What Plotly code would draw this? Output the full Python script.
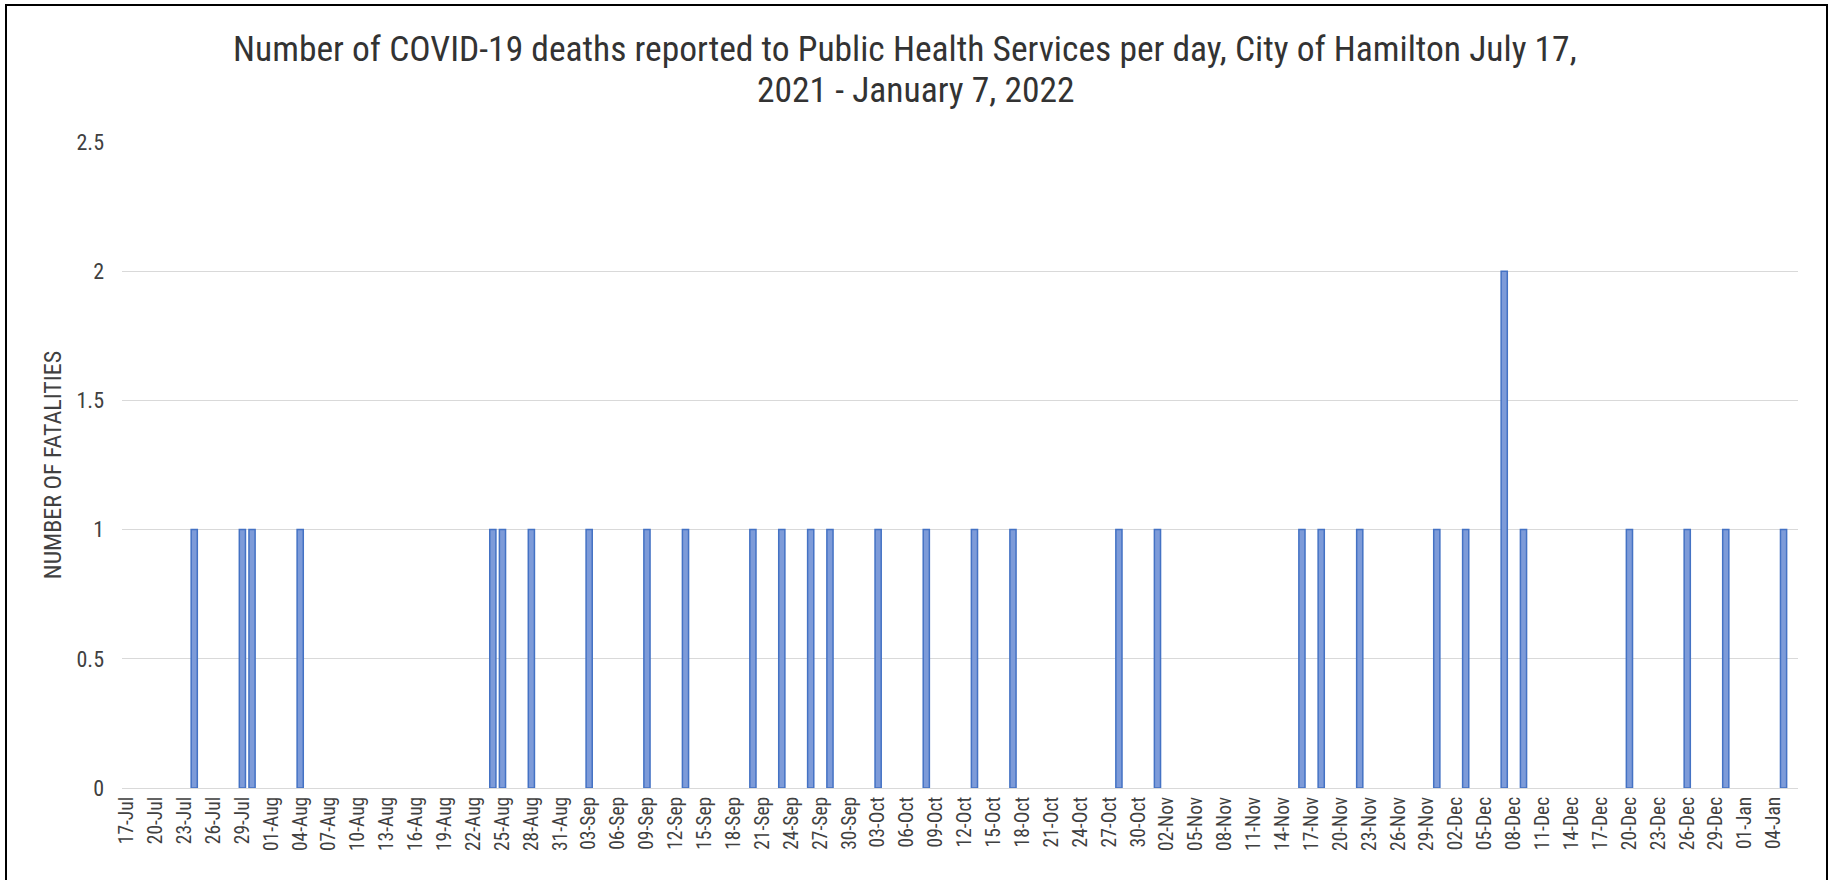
import datetime as dt
import plotly.graph_objects as go

# ---- data ----
start = dt.date(2021, 7, 17)
n_days = 174  # 17-Jul-2021 .. 06-Jan-2022
dates = [start + dt.timedelta(days=i) for i in range(n_days)]
day_labels = [d.strftime("%d-%b") for d in dates]

death_dates = [
    "24-Jul", "29-Jul", "30-Jul", "04-Aug", "24-Aug", "25-Aug", "28-Aug",
    "03-Sep", "09-Sep", "13-Sep", "20-Sep", "23-Sep", "26-Sep", "28-Sep",
    "03-Oct", "08-Oct", "13-Oct", "17-Oct", "28-Oct", "01-Nov", "16-Nov",
    "18-Nov", "22-Nov", "30-Nov", "03-Dec", "07-Dec", "09-Dec", "20-Dec",
    "26-Dec", "30-Dec", "05-Jan",
]
death_counts = [
    1, 1, 1, 1, 1, 1, 1,
    1, 1, 1, 1, 1, 1, 1,
    1, 1, 1, 1, 1, 1, 1,
    1, 1, 1, 1, 2, 1, 1,
    1, 1, 1,
]
tick_labels = day_labels[::3]
title_lines = [
    "Number of COVID-19 deaths reported to Public Health Services per day, City of Hamilton July 17,",
    "2021 - January 7, 2022",
]

lookup = dict(zip(death_dates, death_counts))
values = [lookup.get(lbl, 0) for lbl in day_labels]

# ---- figure ----
FONT = "Liberation Sans Narrow, Arial Narrow, Roboto Condensed, Liberation Sans, sans-serif"
W, H = 1831, 880
ml, mr, mt, mb = 122, 33, 142, 92
pw, ph = W - ml - mr, H - mt - mb

line_widths = [1.5 if v > 0 else 0 for v in values]

fig = go.Figure(
    go.Bar(
        x=day_labels,
        y=values,
        marker=dict(color="#7d9bd9", line=dict(color="#4472C4", width=line_widths)),
        hoverinfo="x+y",
    )
)

def px_to_paper_x(px):
    return (px - ml) / pw

def px_to_paper_y(py):
    return (H - mb - py) / ph

annotations = [
    dict(
        text=title_lines[0],
        xref="paper", yref="paper",
        x=px_to_paper_x(905), y=px_to_paper_y(49),
        xanchor="center", yanchor="middle",
        showarrow=False,
        font=dict(family=FONT, size=35.5, color="#333333"),
    ),
    dict(
        text=title_lines[1],
        xref="paper", yref="paper",
        x=px_to_paper_x(916), y=px_to_paper_y(90),
        xanchor="center", yanchor="middle",
        showarrow=False,
        font=dict(family=FONT, size=35.5, color="#333333"),
    ),
]

fig.update_layout(
    width=W,
    height=H,
    margin=dict(l=ml, r=mr, t=mt, b=mb, autoexpand=False),
    paper_bgcolor="white",
    plot_bgcolor="white",
    bargap=0.36,
    showlegend=False,
    font=dict(family=FONT, color="#404040"),
    annotations=annotations,
    xaxis=dict(
        type="category",
        categoryorder="array",
        categoryarray=day_labels,
        tickmode="array",
        tickvals=tick_labels,
        ticktext=tick_labels,
        tickangle=-90,
        tickfont=dict(family=FONT, size=19.5, color="#404040"),
        showgrid=False,
        showline=True,
        linecolor="#d9d9d9",
        linewidth=1,
        ticks="",
        ticklabelstandoff=0,
        automargin=False,
        range=[-0.5, n_days - 0.5],
    ),
    yaxis=dict(
        range=[0, 2.5],
        dtick=0.5,
        tick0=0,
        showgrid=True,
        gridcolor="#d9d9d9",
        gridwidth=1,
        zeroline=False,
        showline=False,
        ticks="",
        ticklabelstandoff=17,
        automargin=False,
        tickfont=dict(family=FONT, size=22, color="#404040"),
        title=dict(
            text="NUMBER OF FATALITIES",
            font=dict(family=FONT, size=24, color="#404040"),
            standoff=8,
        ),
    ),
    shapes=[
        dict(
            type="rect",
            xref="paper",
            yref="paper",
            x0=px_to_paper_x(6),
            x1=px_to_paper_x(1827),
            y0=px_to_paper_y(900),
            y1=px_to_paper_y(5),
            line=dict(color="black", width=2),
            fillcolor="rgba(0,0,0,0)",
            layer="above",
        )
    ],
)

fig.write_html(
    "out.html",
    config={"displayModeBar": False},
    post_script="document.body.style.margin='0';document.body.style.overflow='hidden';",
)
